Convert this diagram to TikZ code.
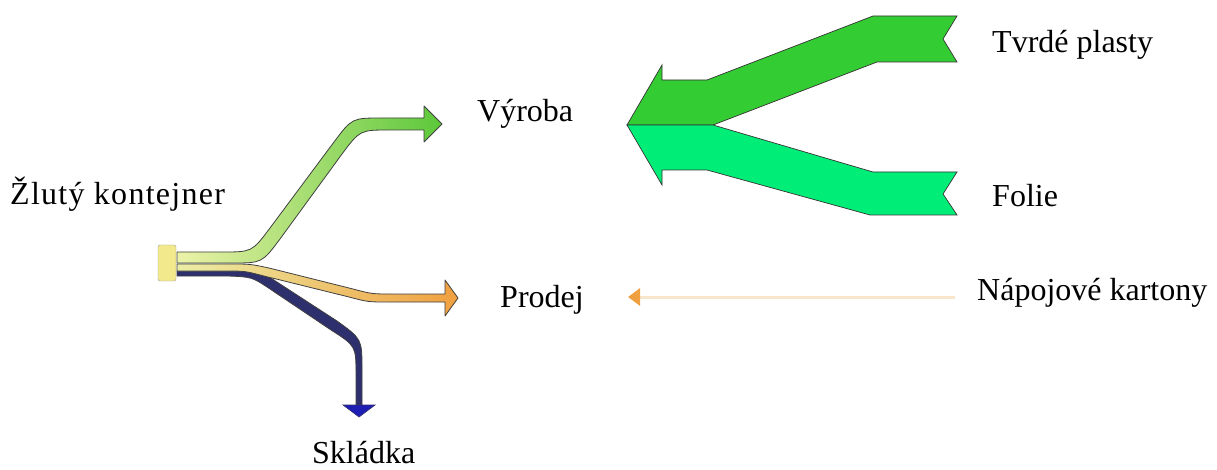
\documentclass[tikz,border=0pt]{standalone}
\usepackage{fontspec}
\setmainfont{Liberation Serif}
\usepackage{xcolor}
\usetikzlibrary{positioning,calc,arrows.meta}
\definecolor{boxyellow}{HTML}{F2E88C}
\definecolor{paleyellow}{HTML}{ECF2A8}
\definecolor{leafgreen}{HTML}{5CC83A}
\definecolor{paleorange}{HTML}{E8DCA0}
\definecolor{deeporange}{HTML}{F0A040}
\definecolor{navy}{HTML}{2E306E}
\definecolor{tipblue}{HTML}{1E1EB4}
\definecolor{hardgreen}{HTML}{33CC33}
\definecolor{foilgreen}{HTML}{00EE77}
\definecolor{peach}{HTML}{F8E6CC}

\begin{document}
\begin{tikzpicture}[x=1pt, y=-1pt,
  flowtext/.style={anchor=base west, inner sep=0pt, font=\fontsize{32}{38}\selectfont},
  band/.style={draw=black!75, line width=0.8pt, line join=round},
  bigflow/.style={draw=black!80, line width=0.7pt, line join=miter}]
\useasboundingbox[fill=white] (0,0) rectangle (1217,470);

% Labels

\node[flowtext] (kontejner) at (10,205) {\addfontfeature{LetterSpace=4}Žlutý kontejner};
\node[flowtext] (vyroba) at (477,122) {Výroba};
\node[flowtext] (prodej) at (500,307) {Prodej};
\node[flowtext] (skladka) at (312,463) {Skládka};
\node[flowtext] (tvrde) at (992,53) {Tvrdé plasty};
\node[flowtext] (folie) at (992,207) {Folie};
\node[flowtext] (napoje) at (977,300) {Nápojové kartony};

% Outgoing bands

\filldraw[band, fill=navy] (356,405) -- (356,375) .. controls (356,346) .. (331,330)
  -- (270,289) .. controls (252,277) .. (228,276) -- (177,276)
  -- (177,271) -- (236,271) .. controls (260,271) .. (280,284)
  -- (337,321) .. controls (362,339) .. (362,370) -- (362,405) -- cycle;
\filldraw[draw=navy, fill=tipblue, line width=0.6pt] (343,405) -- (375,405) -- (359,417) -- cycle;

\shadedraw[band, left color=paleyellow!80!paleorange, right color=deeporange] (445,294) -- (392,294) .. controls (372,294) .. (353,289)
  -- (269,268) .. controls (250,264) .. (230,264) -- (177,264)
  -- (177,271) -- (225,271) .. controls (245,271) .. (264,276)
  -- (349,297) .. controls (368,302) .. (388,302) -- (445,302)
  -- (445,316) -- (458,298) -- (445,280) -- cycle;

\shadedraw[band, left color=paleyellow, right color=leafgreen] (424,118) -- (382,118) .. controls (352,118) .. (334,142)
  -- (270,228) .. controls (252,252) .. (222,252) -- (177,252)
  -- (177,263) -- (232,263) .. controls (262,263) .. (280,239)
  -- (342,154) .. controls (360,130) .. (390,130) -- (424,130)
  -- (424,142) -- (442,124) -- (424,106) -- cycle;

\node[draw=gray!70, fill=boxyellow, minimum width=18, minimum height=36, inner sep=0pt, rounded corners=1.5] (container) at (167,263) {};

% Incoming bands

\filldraw[bigflow, fill=hardgreen] (957,16) -- (873,16) -- (707,80) -- (662,80) -- (662,65) -- (627,125)
  -- (713,125) -- (877,62) -- (957,62) -- (943,39) -- cycle;
\filldraw[bigflow, fill=foilgreen] (627,125) -- (713,125) -- (873,172) -- (957,172) -- (943,194)
  -- (957,215) -- (870,215) -- (707,170) -- (662,170) -- (662,185) -- cycle;

\coordinate (kartonstart) at (955,297);
\coordinate (kartonend) at (628,297);
\draw[peach, line width=3pt, -{Triangle[length=12pt, width=17pt, color=deeporange]}] (kartonstart) -- (kartonend);
\end{tikzpicture}
\end{document}
